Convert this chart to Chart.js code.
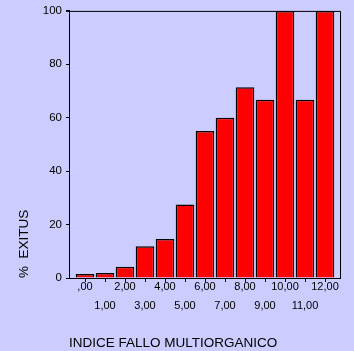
<!DOCTYPE html>
<html>
<head>
<meta charset="utf-8">
<script src="https://cdn.jsdelivr.net/npm/chart.js@4"></script>
<style>
    body { margin: 0; background: #ccccff; }
    #box { width: 354px; height: 351px; }
</style>
</head>
<body>
<div id="box"><canvas id="exitus" width="354" height="351"></canvas></div>
<script>
const categories = [',00', '1,00', '2,00', '3,00', '4,00', '5,00', '6,00', '7,00', '8,00', '9,00', '10,00', '11,00', '12,00'];
const exitusPct = [1.5, 1.9, 4.2, 11.9, 14.6, 27.5, 55, 60, 71.4, 66.7, 100, 66.7, 100];
const yTicks = [0, 20, 40, 60, 80, 100];

window.onload = () => {

    // caja superior y derecha del grafico
    const frame = {
        id: 'frame',
        afterDraw(chart) {
            const a = chart.chartArea;
            const ctx = chart.ctx;
            ctx.save();
            ctx.strokeStyle = '#000';
            ctx.lineWidth = 1;
            ctx.beginPath();
            ctx.moveTo(a.left - 3, a.top + 0.5);
            ctx.lineTo(a.right + 0.5, a.top + 0.5);
            ctx.lineTo(a.right + 0.5, a.bottom);
            ctx.stroke();
            ctx.restore();
        }
    };

    Chart.defaults.font.family = '"Liberation Sans", Arial, sans-serif';
    Chart.defaults.color = '#000';

    let canvas = document.getElementById('exitus');
    let chart = new Chart(canvas, {
        type: 'bar',
        data: {
            datasets: [
                {
                    data: exitusPct.map((v, i) => ({ x: i, y: v })),
                    backgroundColor: '#ff0000',
                    borderColor: '#000',
                    borderWidth: 1.5,
                    categoryPercentage: 1,
                    barPercentage: 0.93,
                }
            ],
        },
        options: {
            responsive: false,
            animation: false,
            layout: { padding: { top: 10, right: 14, left: 0, bottom: 0 } },
            plugins: {
                legend: { display: false },
                tooltip: { enabled: false },
            },
            scales: {
                x: {
                    type: 'linear',
                    offset: false,
                    min: -0.8,
                    max: 12.75,
                    afterFit: (s) => { s.height = 73; },
                    grid: { drawOnChartArea: false, offset: false, tickLength: 4, color: '#000' },
                    border: { color: '#000', width: 1 },
                    ticks: {
                        stepSize: 1,
                        includeBounds: false,
                        maxRotation: 0,
                        autoSkip: false,
                        padding: -4,
                        font: { size: 11, lineHeight: 1.68 },
                        callback: (v) => {
                            const lab = categories[v];
                            if (lab === undefined) return null;
                            return v % 2 === 0 ? [lab, ''] : ['', lab];
                        },
                    },
                    title: {
                        display: true,
                        text: 'INDICE FALLO MULTIORGANICO',
                        align: 'start',
                        font: { size: 13.5 },
                        padding: { top: 5, bottom: 0 },
                    },
                },
                y: {
                    min: 0,
                    max: 100,
                    afterFit: (s) => { s.width = 69; },
                    afterBuildTicks: (s) => { s.ticks = yTicks.map(v => ({ value: v })); },
                    grid: { drawOnChartArea: false, tickLength: 3, color: '#000' },
                    border: { color: '#000', width: 1 },
                    ticks: { padding: 4, font: { size: 11.5 } },
                    title: {
                        display: true,
                        text: '%  EXITUS',
                        align: 'start',
                        font: { size: 13.5 },
                        padding: { top: 16, bottom: 0 },
                    },
                },
            },
        },
        plugins: [frame],
    });
}
</script>
</body>
</html>
